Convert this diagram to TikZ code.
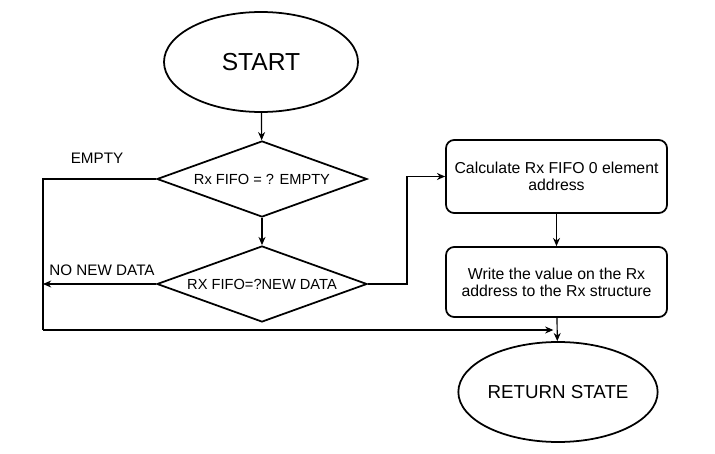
\documentclass[tikz,border=0pt]{standalone}
\usepackage{fontspec}
\setmainfont{Liberation Sans}
\usetikzlibrary{arrows.meta,shapes,positioning,calc}

\tikzset{
  term/.style={ellipse, draw, line width=1.5pt, inner sep=0pt},
  decide/.style={diamond, draw, line width=1.5pt, inner sep=0pt, aspect=2.76},
  proc/.style={rectangle, draw, rounded corners=7pt, line width=1.5pt, align=center},
  arr/.style={line width=1pt, -{Stealth[length=7pt,width=6pt]}},
  lin/.style={line width=1pt},
}

\begin{document}
\begin{tikzpicture}
  \def\lx{1.29}
  \def\by{3.69}

  % Fixed bounding box
  \path[use as bounding box] (0,0) rectangle (21.45,13.59);

  % ---- Terminals ----
  \node[term, minimum width=5.82cm, minimum height=3.0cm, font=\fontsize{21}{24}\selectfont]
    (start) at (7.83,11.73) {START};
  \node[term, minimum width=5.85cm, minimum height=3.0cm, font=\fontsize{16}{19}\selectfont]
    (ret) at (16.74,1.83) {RETURN STATE};

  % ---- Decisions ----
  \node[decide, minimum width=6.3cm, minimum height=2.28cm, font=\fontsize{12.5}{15}\selectfont]
    (empty) at (7.86,8.22) {Rx FIFO = ? EMPTY};
  \node[decide, minimum width=6.3cm, minimum height=2.28cm, font=\fontsize{12.5}{15}\selectfont]
    (newdata) at (7.86,5.07) {RX FIFO=?NEW DATA};

  % ---- Processes ----
  \node[proc, minimum width=6.63cm, minimum height=2.19cm, font=\fontsize{13.5}{14.5}\selectfont]
    (calc) at (16.695,8.295) {Calculate Rx FIFO 0 element\\address};
  \node[proc, minimum width=6.63cm, minimum height=2.1cm, font=\fontsize{13.5}{14.5}\selectfont]
    (write) at (16.695,5.13) {Write the value on the Rx\\address to the Rx structure};

  % ---- Branch labels ----
  \node[font=\fontsize{13}{15}\selectfont] (lblempty) at (2.91,8.85) {EMPTY};
  \node[font=\fontsize{13}{15}\selectfont] (lblnodata) at (3.06,5.49) {NO NEW DATA};

  % ---- Helper points ----
  \coordinate (ltop) at (\lx,8.22);
  \coordinate (lbot) at (\lx,\by);
  \coordinate (rin) at (16.6,\by);
  \coordinate (jog) at (12.21,5.07);

  % ---- Connectors ----
  \draw[arr] (start) -- (empty);
  \draw[arr] (empty) -- (newdata);
  \draw[lin] (empty.west) -- (ltop) -- (lbot);
  \draw[arr] (lbot) -- (rin);
  \draw[arr] (newdata.west) -- (ltop |- newdata.west);
  \draw[arr] (newdata.east) -- (jog) |- (calc.west);
  \draw[arr] (calc) -- (write);
  \draw[arr] (write) -- (ret);

\end{tikzpicture}
\end{document}
